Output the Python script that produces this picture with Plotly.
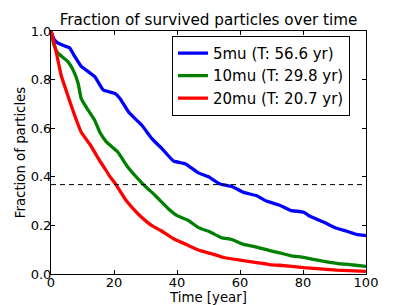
import plotly.graph_objects as go

# ---- data ----
t_5mu = [0, 1, 2.1, 4, 5.9, 7.5, 9.6, 11.8, 13.9, 16.6, 20.3, 21.9, 24.6, 28.9, 32.1, 35.3,
         38.9, 42.6, 46.8, 50, 53.7, 57.4, 61.1, 65.3, 68.4, 72.6, 76, 80.2, 82.3, 86.5,
         90.7, 93.9, 97, 100]
f_5mu = [1.0, 0.965, 0.951, 0.940, 0.931, 0.896, 0.854, 0.833, 0.812, 0.757, 0.743, 0.722,
         0.667, 0.611, 0.556, 0.515, 0.465, 0.454, 0.416, 0.400, 0.370, 0.360, 0.336, 0.322,
         0.300, 0.283, 0.262, 0.254, 0.237, 0.214, 0.188, 0.176, 0.163, 0.158]

t_10mu = [0, 1, 2.1, 5.3, 7, 8.6, 9.6, 11.8, 13.9, 15.5, 17.5, 21.2, 24.3, 29.2, 33, 37.8,
          40, 43.5, 46.8, 50.5, 54.2, 57.4, 61.1, 65.3, 69.5, 72.6, 76, 80.2, 85.5, 90.7,
          96, 100]
f_10mu = [1.0, 0.94, 0.910, 0.875, 0.840, 0.785, 0.722, 0.674, 0.632, 0.583, 0.545, 0.502,
          0.441, 0.370, 0.324, 0.262, 0.240, 0.221, 0.191, 0.173, 0.149, 0.142, 0.122, 0.111,
          0.096, 0.087, 0.076, 0.068, 0.055, 0.044, 0.037, 0.031]

t_20mu = [0, 1.6, 3.2, 5.3, 7.5, 9.6, 12.3, 15.5, 16.8, 18.5, 20.5, 23.8, 27.6, 31.9, 34.7,
          38.9, 43.5, 47.4, 51.6, 54.7, 60, 65.3, 69.7, 72.6, 80.2, 90.7, 100]
f_20mu = [1.0, 0.917, 0.819, 0.736, 0.653, 0.583, 0.535, 0.465, 0.440, 0.405, 0.370, 0.303,
          0.248, 0.200, 0.180, 0.145, 0.118, 0.096, 0.081, 0.068, 0.057, 0.047, 0.038, 0.036,
          0.026, 0.016, 0.011]

names = ["5mu (T: 56.6 yr)", "10mu (T: 29.8 yr)", "20mu (T: 20.7 yr)"]
colors = ["#0000ff", "#008000", "#ff0000"]
threshold = 0.3679  # 1/e
x_range = [0, 100]
x_ticks = [0, 20, 40, 60, 80, 100]
y_ticks = [0.0, 0.2, 0.4, 0.6, 0.8, 1.0]

FONT = "DejaVu Sans"

fig = go.Figure()
for t, f, n, c in zip([t_5mu, t_10mu, t_20mu], [f_5mu, f_10mu, f_20mu], names, colors):
    fig.add_trace(go.Scatter(x=t, y=f, mode="lines", name=n,
                             line=dict(color=c, width=3.3, shape="spline", smoothing=0.4)))

fig.add_trace(go.Scatter(x=x_range, y=[threshold, threshold], mode="lines",
                         line=dict(color="black", width=1, dash="5px,4px"),
                         showlegend=False, hoverinfo="skip"))

axis_common = dict(showgrid=False, zeroline=False, showline=True, linecolor="black",
                   linewidth=1, mirror="ticks", ticks="inside", ticklen=4,
                   tickcolor="black", tickfont=dict(family=FONT, size=13, color="black"))

fig.update_layout(
    width=407, height=305,
    margin=dict(l=51, r=41, t=31, b=31, autoexpand=False),
    paper_bgcolor="white", plot_bgcolor="white",
    font=dict(family=FONT, size=13, color="black"),
    title=dict(text="Fraction of survived particles over time", x=0.5, xref="paper",
               y=1 - 20 / 305, yref="container", xanchor="center", yanchor="middle",
               font=dict(family=FONT, size=15.2, color="black")),
    xaxis=dict(range=x_range, tickvals=x_ticks, ticklabelstandoff=-4, **axis_common,
               title=dict(text="Time [year]", standoff=4,
                          font=dict(family=FONT, size=13.3, color="black"))),
    yaxis=dict(range=[0, 1], tickvals=y_ticks, tickformat=".1f", ticklabelstandoff=-4,
               **axis_common,
               title=dict(text="Fraction of particles", standoff=2,
                          font=dict(family=FONT, size=13.3, color="black"))),
    legend=dict(x=0.384, y=0.98, xanchor="left", yanchor="top",
                bordercolor="black", borderwidth=1, bgcolor="white",
                font=dict(family=FONT, size=15, color="black"),
                itemwidth=30, tracegroupgap=0),
    showlegend=True,
)

fig.write_html("out.html", config={"displayModeBar": False},
               post_script="document.body.style.margin='0';document.body.style.padding='0';")
